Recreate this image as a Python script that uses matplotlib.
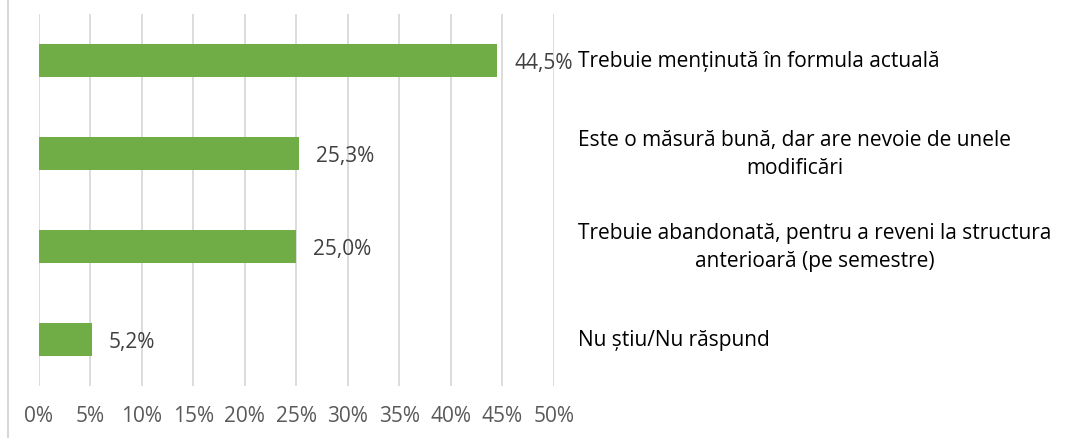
import matplotlib
matplotlib.use("Agg")
import matplotlib.pyplot as plt
from matplotlib.lines import Line2D

categories = [
    "Trebuie menținută în formula actuală",
    "Este o măsură bună, dar are nevoie de unele\nmodificări",
    "Trebuie abandonată, pentru a reveni la structura\nanterioară (pe semestre)",
    "Nu știu/Nu răspund",
]
values = [44.5, 25.3, 25.0, 5.2]
ticks = [0, 5, 10, 15, 20, 25, 30, 35, 40, 45, 50]
tick_labels = [f"{t}%" for t in ticks]

plt.rcParams['font.family'] = ['Open Sans', 'DejaVu Sans']

W, H = 1076, 439
fig = plt.figure(figsize=(W / 100, H / 100), dpi=100)
ax = fig.add_axes([38.5 / W, 1 - 387 / H, (554 - 38.5) / W, (387 - 15) / H])

FS = 15
y = list(range(len(categories)))
ax.barh(y, values, height=0.355, color="#70ad47", zorder=3)
ax.set_ylim(len(categories) - 0.5, -0.5)
ax.set_xlim(0, 50)
ax.set_xticks(ticks)
ax.set_xticklabels(tick_labels, color="#595959", fontsize=FS)
ax.tick_params(axis="x", length=0, pad=14)
ax.set_yticks([])
ax.grid(axis="x", color="#d9d9d9", linewidth=1.3, zorder=0)
for s in ax.spines.values():
    s.set_visible(False)

for yi, v in zip(y, values):
    ax.annotate(f"{v:.1f}%".replace(".", ","), (v, yi), xytext=(17, -2),
                textcoords="offset pixels",
                va="center", ha="left", color="#404040", fontsize=FS)

for yi, cat in zip(y, categories):
    ax.annotate(cat, (0, yi), xycoords=("figure pixels", "data"),
                xytext=(578, 0), textcoords=("figure pixels", "offset pixels"),
                ha="left", va="center", multialignment="center",
                color="#000000", fontsize=FS, linespacing=1.45,
                annotation_clip=False)

fig.add_artist(Line2D([7.5 / W, 7.5 / W], [0, 1], transform=fig.transFigure,
                      color="#d9d9d9", linewidth=1.5))

fig.savefig("out.png", dpi=100, facecolor="white")
